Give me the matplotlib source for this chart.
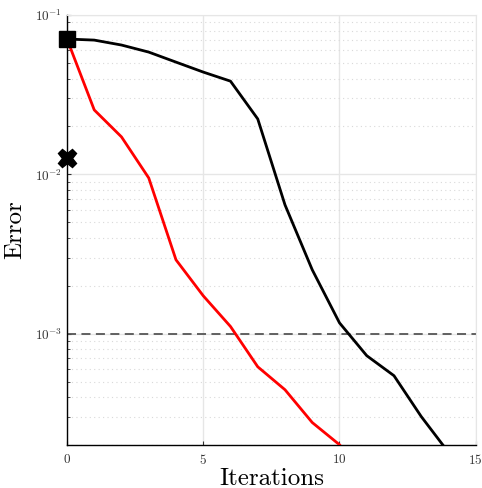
import numpy as np
import matplotlib
matplotlib.use("Agg")
import matplotlib.pyplot as plt
from matplotlib.ticker import LogLocator, NullFormatter

plt.rcParams['font.family'] = ['cmr10', 'DejaVu Serif']
plt.rcParams['mathtext.fontset'] = 'cm'
plt.rcParams['axes.formatter.use_mathtext'] = True

# data
iters_black = [0, 1, 2, 3, 4, 5, 6, 7, 8, 9, 10, 11, 12, 13, 14]
err_black = [0.0708, 0.0697, 0.0649, 0.0586, 0.0507, 0.0439, 0.0385, 0.0223,
             0.00644, 0.00252, 0.00117, 7.28e-4, 5.45e-4, 3.02e-4, 1.8e-4]
iters_red = [0, 1, 2, 3, 4, 5, 6, 7, 8, 9, 10]
err_red = [0.0708, 0.0254, 0.0172, 0.0095, 0.00291, 0.00173, 0.00111,
           6.2e-4, 4.45e-4, 2.77e-4, 2.01e-4]
start_err = 0.0708
cross_err = 0.01267
tol = 1e-3

fig = plt.figure(figsize=(4.82, 4.88), dpi=100)
ax = fig.add_axes([0.139, 0.088, 0.848, 0.881])

ax.set_yscale('log')
ax.set_xlim(0, 15)
ax.set_ylim(2.0e-4, 1e-1)

ax.grid(True, which='major', color='#e6e6e6', linewidth=1.0, zorder=0)
ax.yaxis.grid(True, which='minor', color='#d9d9d9', linestyle=(0, (1, 3)), linewidth=0.8)

ax.axhline(tol, color='#555555', linestyle=(0, (5, 3)), linewidth=1.3, zorder=2)

ax.plot(iters_black, err_black, color='black', linewidth=2.0, zorder=3)
ax.plot(iters_red, err_red, color='red', linewidth=2.0, zorder=3)
ax.plot([0], [start_err], marker='s', markersize=11, color='black', zorder=5, clip_on=False)
ax.plot([0], [cross_err], marker='X', markersize=13, color='black', zorder=5, clip_on=False)

ax.set_xticks([0, 5, 10, 15])
ax.yaxis.set_major_locator(LogLocator(base=10, numticks=10))
ax.yaxis.set_minor_locator(LogLocator(base=10, subs=np.arange(2, 10), numticks=20))
ax.yaxis.set_minor_formatter(NullFormatter())
ax.tick_params(direction='in', which='both', labelsize=9.5, colors='#333333', length=3)
ax.tick_params(axis='x', pad=6)
ax.tick_params(which='minor', length=2)

for s in ['top', 'right']:
    ax.spines[s].set_color('#e6e6e6')
for s in ['left', 'bottom']:
    ax.spines[s].set_color('black')
    ax.spines[s].set_linewidth(1.0)

ax.set_xlabel('Iterations', fontsize=18, labelpad=0)
ax.set_ylabel('Error', fontsize=18, labelpad=6)

fig.savefig('out.png', dpi=100)
